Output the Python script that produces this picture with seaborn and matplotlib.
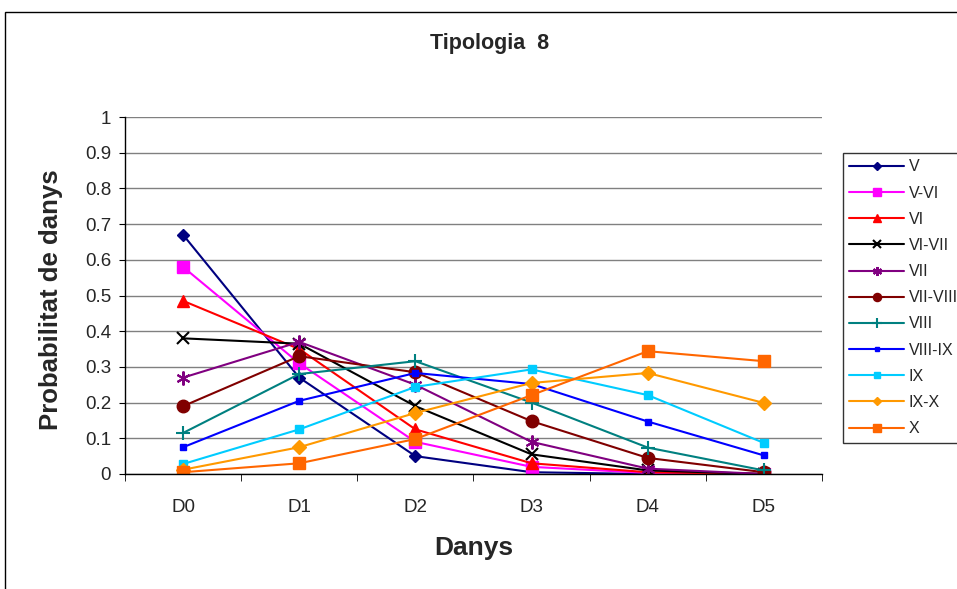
import seaborn as sns
import matplotlib.pyplot as plt
import matplotlib.patches as mpatches
import pandas as pd

sns.set_style("white", {'axes.grid': False})
plt.rcParams['font.family'] = ['Liberation Sans', 'DejaVu Sans']

# damage states on the x axis
states = ["D0", "D1", "D2", "D3", "D4", "D5"]

# probability of each damage state, per intensity level
V = [0.67, 0.27, 0.05, 0.005, 0.0, 0.0]
V_VI = [0.58, 0.31, 0.09, 0.02, 0.003, 0.0]
VI = [0.485, 0.35, 0.125, 0.03, 0.005, 0.0]
VI_VII = [0.38, 0.365, 0.19, 0.055, 0.01, 0.0]
VII = [0.27, 0.37, 0.25, 0.09, 0.015, 0.0]
VII_VIII = [0.19, 0.33, 0.285, 0.148, 0.045, 0.005]
VIII = [0.115, 0.28, 0.316, 0.2, 0.074, 0.01]
VIII_IX = [0.075, 0.205, 0.283, 0.252, 0.147, 0.052]
IX = [0.028, 0.125, 0.244, 0.293, 0.221, 0.087]
IX_X = [0.012, 0.075, 0.171, 0.255, 0.283, 0.199]
X = [0.005, 0.03, 0.098, 0.221, 0.344, 0.316]

series = ["V", "V-VI", "VI", "VI-VII", "VII", "VII-VIII",
          "VIII", "VIII-IX", "IX", "IX-X", "X"]
values = [V, V_VI, VI, VI_VII, VII, VII_VIII, VIII, VIII_IX, IX, IX_X, X]

colors = ["#000080", "#FF00FF", "#FF0000", "#000000", "#800080", "#800000",
          "#008080", "#0000FF", "#00CCFF", "#FF9900", "#FF6600"]
markers = ["D", "s", "^", "x", (6, 2, 0), "o", "+", "s", "s", "D", "s"]
msizes = [6, 9, 8, 8, 10, 9, 10, 5, 6, 7, 9]

rows = []
for name, vals in zip(series, values):
    for st, v in zip(states, vals):
        rows.append({"serie": name, "dany": st, "prob": v})
df = pd.DataFrame(rows)

fig = plt.figure(figsize=(9.57, 5.89), dpi=100)
ax = fig.add_axes([125 / 957, 1 - 474 / 589, (822 - 125) / 957, (474 - 117) / 589])

for name, c, m, ms in zip(series, colors, markers, msizes):
    sub = df[df.serie == name]
    mew = 1.5 if m in ("x", "+", (6, 2, 0)) else 1
    sns.lineplot(data=sub, x="dany", y="prob", color=c, marker=m,
                 markersize=ms, markeredgecolor=c, markeredgewidth=mew,
                 linewidth=1.5, label=name, ax=ax, sort=False)

ax.set_xlim(-0.5, 5.5)
ax.set_ylim(0, 1)
ax.set_yticks([i / 10 for i in range(11)])
ax.set_yticklabels(["0", "0.1", "0.2", "0.3", "0.4", "0.5", "0.6", "0.7", "0.8", "0.9", "1"])
ax.yaxis.grid(True, color="#808080", linewidth=1)
ax.set_axisbelow(True)
ax.tick_params(axis="both", labelsize=13.5, length=4, direction="out",
               left=True, bottom=False, color="black")
ax.set_xticks(range(6))
ax.set_xticks([i - 0.5 for i in range(7)], minor=True)
ax.tick_params(axis="x", which="minor", length=5, bottom=True, color="black")
ax.tick_params(axis="x", pad=14)
ax.tick_params(axis="y", pad=6)
for side in ["top", "right"]:
    ax.spines[side].set_visible(False)
for side in ["left", "bottom"]:
    ax.spines[side].set_color("black")
    ax.spines[side].set_linewidth(1)
ax.set_xlabel("")
ax.set_ylabel("")

fig.text(490 / 957, 1 - 44 / 589, "Tipologia  8", ha="center", va="center",
         fontsize=15.5, fontweight="bold")
fig.text(51 / 957, 1 - 300 / 589, "Probabilitat de danys", ha="center", va="center",
         rotation=90, fontsize=18.5, fontweight="bold")
fig.text(474 / 957, 1 - 548 / 589, "Danys", ha="center", va="center",
         fontsize=19, fontweight="bold")

leg = ax.legend(loc="upper left", bbox_to_anchor=(843 / 957, 1 - 153 / 589),
                bbox_transform=fig.transFigure, borderaxespad=0, fontsize=11.5,
                frameon=True, fancybox=False, edgecolor="black", handlelength=3.4,
                labelspacing=0.7, borderpad=0.4, handletextpad=0.3)
leg.get_frame().set_linewidth(1)
for h in leg.legend_handles:
    h.set_markersize(h.get_markersize() * 0.65)

fig.patches.append(mpatches.Rectangle((5 / 957, -0.1), 1.2, 1.1 - 12 / 589,
                                      transform=fig.transFigure, fill=False,
                                      edgecolor="black", linewidth=1))

fig.savefig("out.png", dpi=100)
